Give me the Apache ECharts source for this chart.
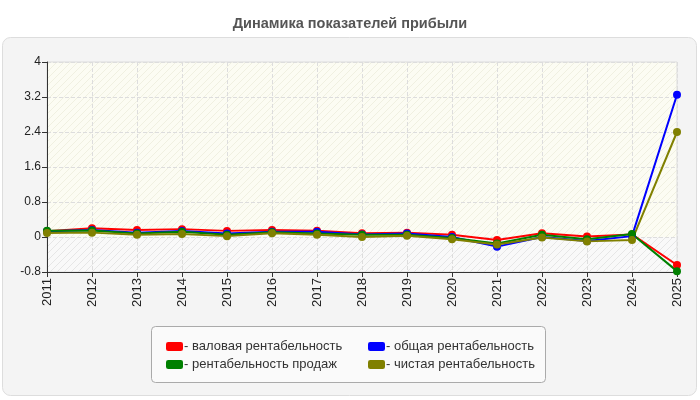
<!DOCTYPE html>
<html lang="ru">
<head>
    <meta charset="UTF-8">
    <title>Динамика показателей прибыли</title>
    <script src="https://cdn.jsdelivr.net/npm/echarts@6/dist/echarts.min.js"></script>
    <style>
        html, body { margin: 0; padding: 0; background: #fff; }
    </style>
</head>
<body>
<div id="main" style="width: 700px;height: 400px;"></div>
<script type="text/javascript">
// годы и значения показателей
var years = ['2011', '2012', '2013', '2014', '2015', '2016', '2017', '2018',
             '2019', '2020', '2021', '2022', '2023', '2024', '2025'];
var valovaya = [0.13, 0.20, 0.16, 0.18, 0.14, 0.16, 0.145, 0.085, 0.10, 0.05, -0.07, 0.085, 0.01, 0.06, -0.64];
var obshaya = [0.13, 0.16, 0.10, 0.14, 0.08, 0.12, 0.12, 0.06, 0.08, 0.00, -0.22, 0.00, -0.09, 0.02, 3.25];
var prodazh = [0.145, 0.15, 0.08, 0.12, 0.05, 0.11, 0.08, 0.05, 0.05, -0.02, -0.15, 0.05, -0.05, 0.07, -0.78];
var chistaya = [0.09, 0.10, 0.05, 0.07, 0.02, 0.085, 0.05, 0.00, 0.03, -0.05, -0.17, -0.01, -0.10, -0.07, 2.40];

var names = ['валовая рентабельность', 'общая рентабельность', 'рентабельность продаж', 'чистая рентабельность'];
var colors = ['#ff0000', '#0000ff', '#008000', '#808000'];

// штриховка фона
function hatch(bg, fg) {
    var c = document.createElement('canvas');
    c.width = 7; c.height = 7;
    var ctx = c.getContext('2d');
    ctx.fillStyle = bg;
    ctx.fillRect(0, 0, 7, 7);
    ctx.strokeStyle = fg;
    ctx.lineWidth = 1;
    ctx.beginPath();
    ctx.moveTo(-1, 8); ctx.lineTo(8, -1);
    ctx.moveTo(-1, 1); ctx.lineTo(1, -1);
    ctx.moveTo(6, 8); ctx.lineTo(8, 6);
    ctx.stroke();
    return { image: c, repeat: 'repeat' };
}

var font = '"Liberation Sans", Arial, sans-serif';

function makeSeries(i, data) {
    return {
        name: names[i],
        type: 'line',
        data: data,
        symbol: 'circle',
        symbolSize: 8,
        lineStyle: { width: 2, color: colors[i] },
        itemStyle: { color: colors[i] },
        emphasis: { disabled: true },
        animation: false
    };
}

var myChart = echarts.init(document.getElementById('main'));

var series = [
    // пустая серия только для фона (под сеткой)
    {
        type: 'line',
        data: [],
        silent: true,
        animation: false,
        markArea: {
            silent: true,
            z: -1,
            data: [
                [{ yAxis: 0, itemStyle: { color: hatch('#fcfcf3', '#f0f0e1') } }, { yAxis: 4 }],
                [{ yAxis: -0.8, itemStyle: { color: hatch('#f9f9f9', '#e6e6e6') } }, { yAxis: 0 }]
            ]
        }
    },
    makeSeries(0, valovaya),
    makeSeries(1, obshaya),
    makeSeries(2, prodazh),
    makeSeries(3, chistaya)
];

var legendCommon = {
    orient: 'vertical', top: 335,
    itemWidth: 17, itemHeight: 9, itemGap: 5,
    icon: 'roundRect',
    selectedMode: false,
    formatter: '- {name}',
    textStyle: { fontSize: 13, color: '#333', padding: [0, 0, 0, -4] }
};

myChart.setOption({
    textStyle: { fontFamily: font },
    title: {
        text: 'Динамика показателей прибыли',
        left: 'center',
        top: 11,
        textStyle: { fontSize: 14.5, fontWeight: 'bold', color: '#555', fontFamily: font }
    },
    graphic: [
        {
            type: 'rect', z: -10, silent: true,
            shape: { x: 2.5, y: 37.5, width: 694, height: 358, r: 8 },
            style: { fill: '#f4f4f4', stroke: '#dddddd', lineWidth: 1 }
        },
        {
            type: 'rect', z: -5, silent: true,
            shape: { x: 151.5, y: 326.5, width: 394, height: 56, r: 4 },
            style: { fill: '#fafafa', stroke: '#aaaaaa', lineWidth: 1 }
        }
    ],
    legend: [
        Object.assign({}, legendCommon, { left: 161, data: [names[0], names[2]] }),
        Object.assign({}, legendCommon, { left: 363, data: [names[1], names[3]] })
    ],
    grid: {
        left: 47, right: 23, top: 62, bottom: 128,
        show: true, borderColor: '#dddddd', borderWidth: 1
    },
    xAxis: {
        type: 'category',
        data: years,
        boundaryGap: false,
        axisLine: { onZero: false, lineStyle: { color: '#333' } },
        axisTick: { show: true, alignWithLabel: true, lineStyle: { color: '#333' } },
        axisLabel: { rotate: 90, fontSize: 13, color: '#222', margin: 6 },
        splitLine: { show: true, lineStyle: { type: 'dashed', color: '#dddddd' } }
    },
    yAxis: {
        type: 'value',
        min: -0.8, max: 4, interval: 0.8,
        axisLine: { show: true, lineStyle: { color: '#333' } },
        axisTick: { show: true, lineStyle: { color: '#333' } },
        axisLabel: { fontSize: 12, color: '#222', margin: 6,
            formatter: function (v) { return String(Math.round(v * 10) / 10); } },
        splitLine: { show: true, lineStyle: { type: 'dashed', color: '#dddddd' } }
    },
    series: series
});
</script>
</body>
</html>
